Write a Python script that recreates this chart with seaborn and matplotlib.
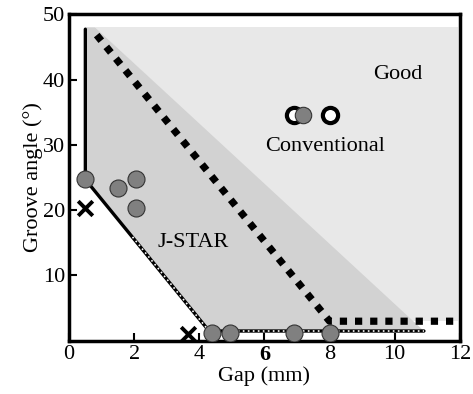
import matplotlib
matplotlib.use('Agg')
import matplotlib.pyplot as plt
import seaborn as sns
import pandas as pd

# J-STAR data points (gray circles)
jstar_gap = [0.5, 1.5, 2.05, 2.05, 4.4, 4.95, 6.9, 8.0]
jstar_angle = [24.7, 23.4, 24.7, 20.3, 1.2, 1.2, 1.2, 1.2]

# failed points (crosses)
fail_gap = [0.5, 3.65]
fail_angle = [20.3, 1.1]

# conventional points (open circles) and gray point among them
conv_gap = [6.9, 8.0]
conv_angle = [34.6, 34.6]
conv_gray_gap = [7.18]
conv_gray_angle = [34.6]

# region outlines
good_x = [0.8, 11.95, 11.95, 10.45]
good_y = [48, 48, 3.0, 3.0]
jstar_x = [0.5, 0.5, 4.3, 10.9, 0.8]
jstar_y = [48, 24.7, 1.5, 1.5, 48]

# boundary lines
solid_x = [0.5, 0.5, 4.3, 10.9]
solid_y = [47.7, 24.7, 1.5, 1.5]
white_x = [1.95, 4.3, 10.9]
white_y = [15.9, 1.5, 1.5]
conv_line_x = [0.85, 8.0, 12.0]
conv_line_y = [46.8, 3.0, 3.0]

xticks = [0, 2, 4, 6, 8, 10, 12]
yticks = [10, 20, 30, 40, 50]

sns.set_style('ticks')
plt.rcParams['font.family'] = ['Liberation Serif', 'DejaVu Serif']
plt.rcParams['text.color'] = 'black'
plt.rcParams['axes.labelcolor'] = 'black'
plt.rcParams['xtick.color'] = 'black'
plt.rcParams['ytick.color'] = 'black'

fig, ax = plt.subplots(figsize=(4.73, 3.94), dpi=100)
fig.subplots_adjust(left=0.146, right=0.972, top=0.964, bottom=0.135)

ax.fill(good_x, good_y, color='#e8e8e8', lw=0, zorder=0)
ax.fill(jstar_x, jstar_y, color='#d2d2d2', lw=0, zorder=1)

ax.plot(solid_x, solid_y, color='black', lw=2.4, solid_joinstyle='miter', zorder=2)
ax.plot(white_x, white_y, color='white', lw=1.2, linestyle=(0, (1, 2)), zorder=3)
ax.plot(conv_line_x, conv_line_y, color='black', lw=5.2, linestyle=(0, (1, 1.1)),
        dash_capstyle='butt', zorder=2)

pts = pd.DataFrame({'gap': jstar_gap, 'angle': jstar_angle})
sns.scatterplot(data=pts, x='gap', y='angle', s=150, color='#808080',
                edgecolor='#333333', linewidth=0.8, zorder=5, ax=ax)
sns.scatterplot(x=conv_gap, y=conv_angle, s=120, color='white',
                edgecolor='black', linewidth=3, zorder=5, ax=ax)
sns.scatterplot(x=conv_gray_gap, y=conv_gray_angle, s=140, color='#808080',
                edgecolor='#333333', linewidth=0.8, zorder=6, ax=ax)
sns.scatterplot(x=fail_gap, y=fail_angle, marker='x', s=110, color='black',
                linewidth=2.8, zorder=6, ax=ax)

ax.text(10.1, 40.8, 'Good', fontsize=16, ha='center', va='center')
ax.text(7.85, 29.8, 'Conventional', fontsize=16, ha='center', va='center')
ax.text(3.8, 15.0, 'J-STAR', fontsize=16, ha='center', va='center')

ax.set_xlim(0, 12)
ax.set_ylim(0, 50)
ax.set_xticks(xticks)
ax.set_yticks(yticks)
ax.set_xticklabels([str(t) for t in xticks], fontsize=16)
ax.set_yticklabels([str(t) for t in yticks], fontsize=16)
ax.get_xticklabels()[3].set_fontweight('bold')
ax.tick_params(direction='in', length=6, width=1.5, pad=3)
for sp in ax.spines.values():
    sp.set_linewidth(2.5)
    sp.set_edgecolor('black')
ax.set_xlabel('Gap (mm)', fontsize=16, labelpad=1)
ax.set_ylabel('Groove angle (°)', fontsize=16, labelpad=0)

plt.savefig('out.png', dpi=100)
